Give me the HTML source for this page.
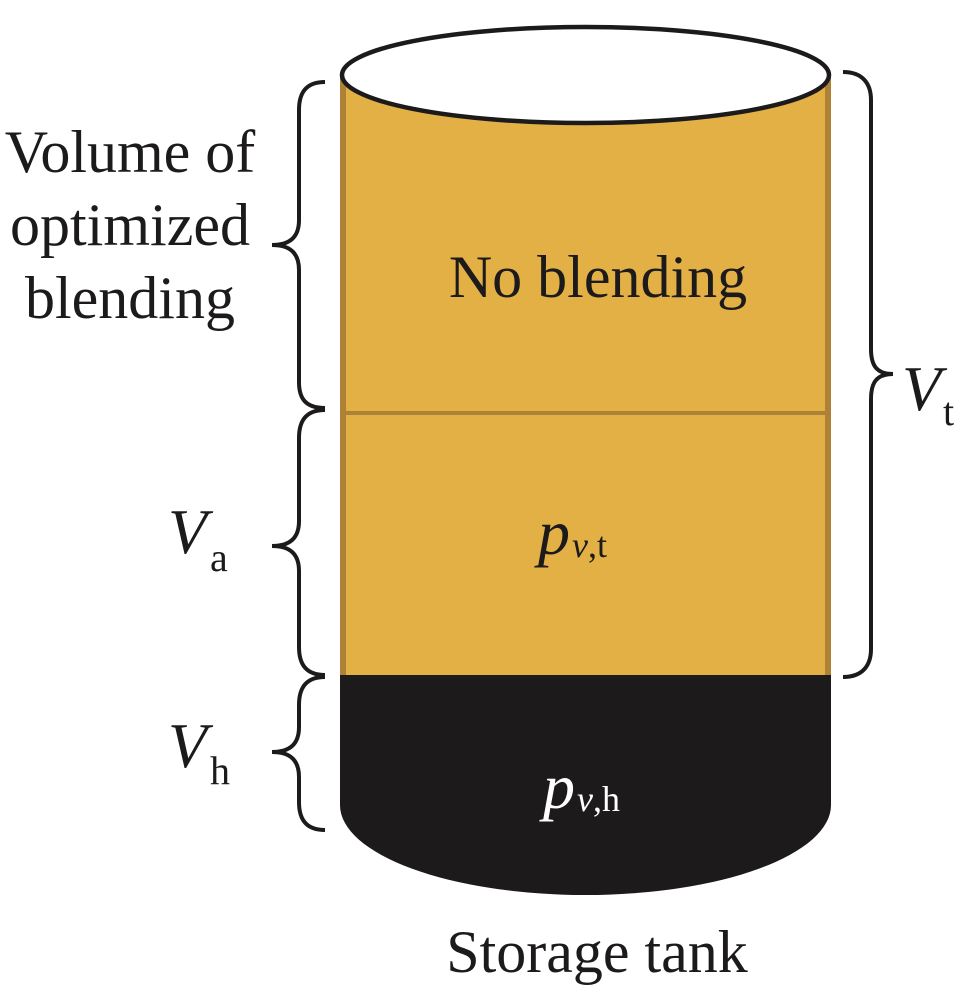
<!DOCTYPE html>
<html><head><meta charset="utf-8"><style>
html,body{margin:0;padding:0;background:#fff;}
svg{display:block;}
text{font-family:"Liberation Serif",serif;}
</style></head><body>
<svg width="957" height="995" viewBox="0 0 957 995" xmlns="http://www.w3.org/2000/svg">
<!-- gold body -->
<rect x="340" y="75" width="491" height="600" fill="#e3b046"/>
<rect x="340" y="75" width="6" height="600" fill="#ad8236"/>
<rect x="825" y="75" width="6" height="600" fill="#ad8236"/>
<rect x="340" y="411" width="491" height="4" fill="#ad8236"/>
<!-- black part -->
<path d="M340,675 L831,675 L831,805 A245.5,90 0 0 1 340,805 Z" fill="#1c1a1b"/>
<!-- top ellipse -->
<ellipse cx="585.5" cy="75" rx="243.5" ry="48" fill="#fff" stroke="#1c1a1b" stroke-width="4.5"/>
<!-- braces -->
<g fill="none" stroke="#1c1a1b" stroke-width="4">
<path d="M325,82 C305,82 299,94 299,110 L299,220 C299,237 290,245 272,245 C290,245 299,253 299,270 L299,382 C299,398 305,408 325,408"/>
<path d="M325,410 C305,410 299,422 299,438 L299,521 C299,538 290,546 272,546 C290,546 299,554 299,571 L299,647 C299,663 305,675 325,675"/>
<path d="M325,677 C305,677 299,689 299,705 L299,727 C299,744 290,752 272,752 C290,752 299,760 299,777 L299,802 C299,818 305,830 325,830"/>
<path d="M843,72 C863,72 871,84 871,100 L871,349 C871,366 877,374 893,374 C877,374 871,382 871,399 L871,649 C871,665 863,677 843,677"/>
</g>
<!-- texts -->
<g font-size="60" fill="#1c1a1b" text-anchor="middle">
<text x="130" y="172">Volume of</text>
<text x="130" y="245">optimized</text>
<text x="130" y="318">blending</text>
<text x="598" y="297">No blending</text>
<text x="597" y="972">Storage tank</text>
</g>
<g fill="#1c1a1b">
<text x="168" y="553" font-size="64" font-style="italic">V</text>
<text x="210" y="571" font-size="40">a</text>
<text x="168" y="767" font-size="64" font-style="italic">V</text>
<text x="210" y="784" font-size="40">h</text>
<text x="902" y="410" font-size="64" font-style="italic">V</text>
<text x="943" y="425" font-size="40">t</text>
<text x="538" y="554" font-size="64" font-style="italic">p</text>
<text x="572" y="557" font-size="36"><tspan font-style="italic">v</tspan>,t</text>
</g>
<g fill="#ffffff">
<text x="543" y="808" font-size="64" font-style="italic">p</text>
<text x="577" y="811" font-size="36"><tspan font-style="italic">v</tspan>,h</text>
</g>
</svg>
</body></html>
